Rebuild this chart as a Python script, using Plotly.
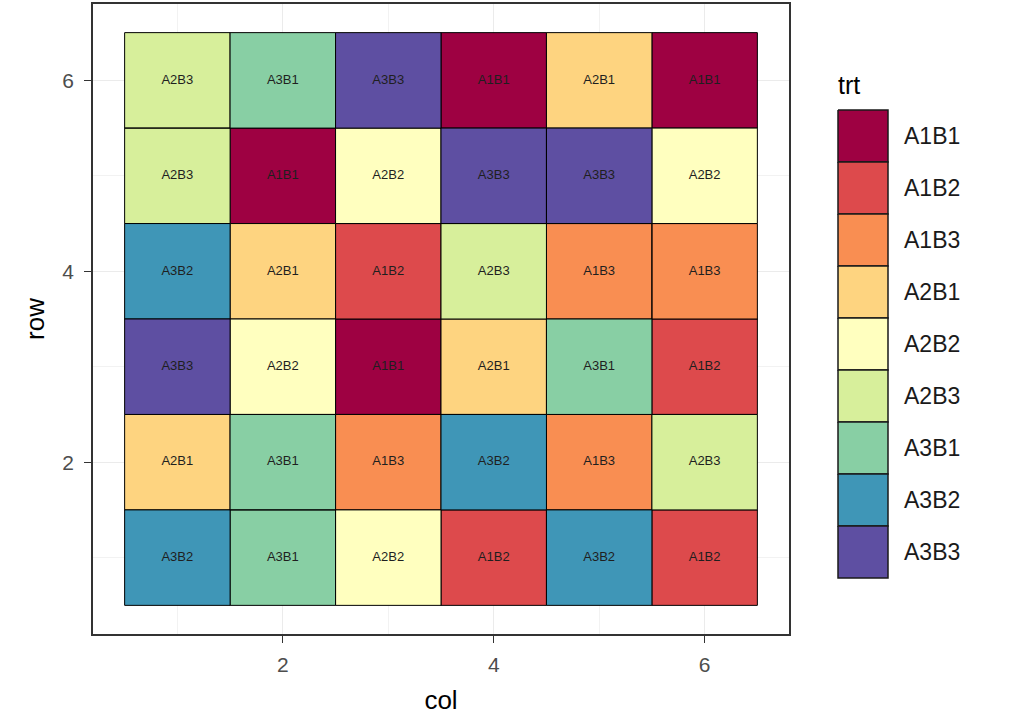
import plotly.graph_objects as go

# ---- data ----
trt_levels = ["A1B1", "A1B2", "A1B3", "A2B1", "A2B2", "A2B3", "A3B1", "A3B2", "A3B3"]
palette = ["#9E0142", "#DD4A4C", "#F98E52", "#FED480", "#FFFFBF",
           "#D7EF9B", "#88CFA4", "#3F96B7", "#5E4FA2"]
col_values = [1, 2, 3, 4, 5, 6]
row_values = [6, 5, 4, 3, 2, 1]
row6 = ["A2B3", "A3B1", "A3B3", "A1B1", "A2B1", "A1B1"]
row5 = ["A2B3", "A1B1", "A2B2", "A3B3", "A3B3", "A2B2"]
row4 = ["A3B2", "A2B1", "A1B2", "A2B3", "A1B3", "A1B3"]
row3 = ["A3B3", "A2B2", "A1B1", "A2B1", "A3B1", "A1B2"]
row2 = ["A2B1", "A3B1", "A1B3", "A3B2", "A1B3", "A2B3"]
row1 = ["A3B2", "A3B1", "A2B2", "A1B2", "A3B2", "A1B2"]
field = [row6, row5, row4, row3, row2, row1]

cols, rows, trts = [], [], []
for r, line in zip(row_values, field):
    for c, t in zip(col_values, line):
        cols.append(c)
        rows.append(r)
        trts.append(t)

FONT = "Liberation Sans, Arial, sans-serif"


def rect_path(xc, yc, hw=0.5, hh=0.5):
    xs, ys = [], []
    for x, y in zip(xc, yc):
        xs += [x - hw, x + hw, x + hw, x - hw, x - hw, None]
        ys += [y - hh, y - hh, y + hh, y + hh, y - hh, None]
    return xs, ys


fig = go.Figure()

# tiles
for lvl, colr in zip(trt_levels, palette):
    xc = [c for c, t in zip(cols, trts) if t == lvl]
    yc = [r for r, t in zip(rows, trts) if t == lvl]
    xs, ys = rect_path(xc, yc)
    fig.add_trace(go.Scatter(x=xs, y=ys, mode="lines", fill="toself",
                             fillcolor=colr, line=dict(color="#000000", width=1),
                             showlegend=False, hoverinfo="skip",
                             xaxis="x", yaxis="y"))

# tile labels
fig.add_trace(go.Scatter(x=cols, y=rows, mode="text", text=trts,
                         textfont=dict(family=FONT, size=13, color="#1F1F1F"),
                         showlegend=False, hoverinfo="skip", xaxis="x", yaxis="y"))

# legend keys (drawn on their own axes)
key_idx = list(range(len(trt_levels)))
for i, (lvl, colr) in enumerate(zip(trt_levels, palette)):
    xs, ys = rect_path([0.5], [i])
    fig.add_trace(go.Scatter(x=xs, y=ys, mode="lines", fill="toself",
                             fillcolor=colr, line=dict(color="#1A1A1A", width=1.5),
                             showlegend=False, hoverinfo="skip",
                             xaxis="x2", yaxis="y2"))

L, R, T, B = 93, 10, 4, 88
W, H = 1010, 722
pw, ph = W - L - R, H - T - B


def fx(px):
    return (px - L) / pw


def fy(py):
    return (H - B - py) / ph


axis_common = dict(
    showgrid=True, gridcolor="#EBEBEB", gridwidth=1.2,
    zeroline=False, showline=True, linecolor="#333333", linewidth=1.6,
    mirror=True, ticks="outside", ticklen=7, tickwidth=1.4, tickcolor="#333333",
    tickfont=dict(family=FONT, size=21, color="#4D4D4D"),
    tickvals=[2, 4, 6], range=[0.2, 6.8],
    minor=dict(tickvals=[1, 3, 5], showgrid=True, gridcolor="#F2F2F2", gridwidth=1, ticks=""),
)

fig.update_layout(
    width=W, height=H,
    margin=dict(l=L, r=R, t=T, b=B, autoexpand=False),
    paper_bgcolor="white", plot_bgcolor="white",
    xaxis=dict(axis_common, domain=[0, fx(789)], ticklabelstandoff=4,
               title=dict(text="col", font=dict(family=FONT, size=26, color="#000000"), standoff=16)),
    yaxis=dict(axis_common, domain=[0, 1], ticklabelstandoff=6,
               title=dict(text="row", font=dict(family=FONT, size=26, color="#000000"), standoff=10)),
    xaxis2=dict(domain=[fx(837), fx(889)], range=[-0.02, 1.02], anchor="y2",
                showgrid=False, zeroline=False, showticklabels=False, ticks="",
                showline=False, fixedrange=True),
    yaxis2=dict(domain=[fy(579), fy(109)], range=[len(trt_levels) - 0.48, -0.52], anchor="x2",
                side="right", showgrid=False, zeroline=False, showline=False, ticks="",
                tickvals=key_idx, ticktext=trt_levels, ticklabelstandoff=14,
                tickfont=dict(family=FONT, size=23, color="#1A1A1A")),
    annotations=[dict(text="trt", xref="paper", yref="paper", x=fx(836), y=fy(85),
                      xanchor="left", yanchor="middle", showarrow=False,
                      font=dict(family=FONT, size=25, color="#000000"))],
    showlegend=False,
)

fig.write_html("out.html", config={"displayModeBar": False},
               post_script="document.body.style.margin='0px';")
